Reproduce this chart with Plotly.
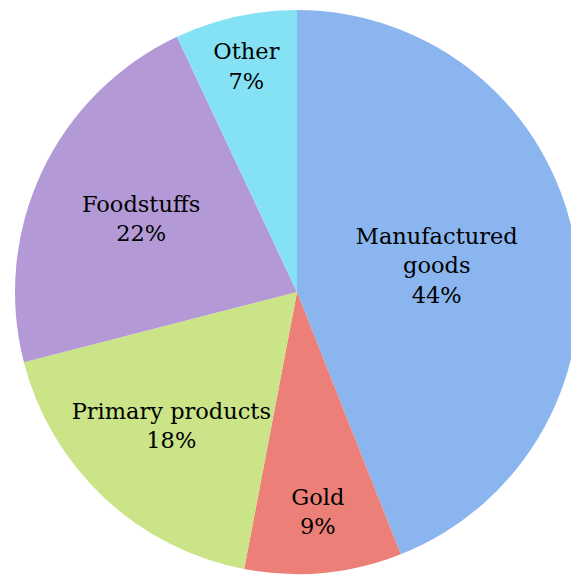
import plotly.graph_objects as go

categories = ["Manufactured goods", "Gold", "Primary products", "Foodstuffs", "Other"]
label_text = ["Manufactured<br>goods", "Gold", "Primary products", "Foodstuffs", "Other"]
values = [44, 9, 18, 22, 7]
colors = ["#8ab5ee", "#ec8078", "#cae487", "#b39ad6", "#84e2f4"]

W, H = 580, 575
fig = go.Figure(go.Pie(
    labels=categories,
    values=values,
    customdata=label_text,
    texttemplate="%{customdata}<br>%{percent:.0%}",
    textposition="inside",
    insidetextorientation="horizontal",
    sort=False,
    direction="clockwise",
    rotation=0,
    marker=dict(colors=colors, line=dict(width=0)),
    textfont=dict(family="DejaVu Serif", size=22.5, color="black"),
    domain=dict(x=[15 / W, 579 / W], y=[1 / H, 565 / H]),
    showlegend=False,
    hoverinfo="label+percent",
))
fig.update_layout(
    width=W, height=H,
    margin=dict(l=0, r=0, t=0, b=0),
    paper_bgcolor="white",
    uniformtext=dict(minsize=22, mode="show"),
)
fig.write_html("out.html")
